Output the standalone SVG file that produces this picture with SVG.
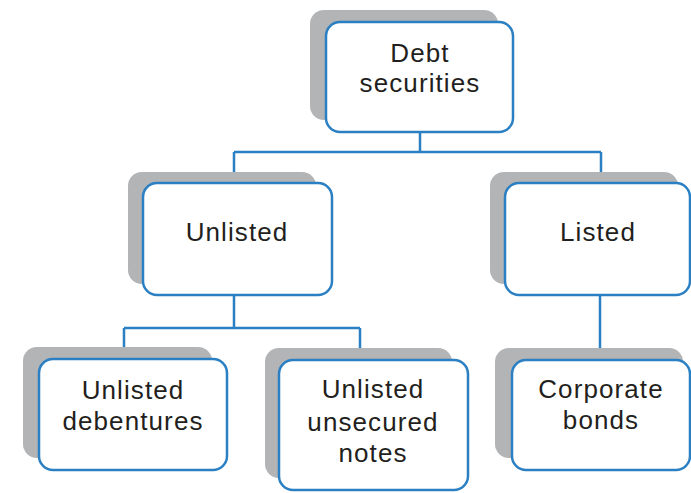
<svg xmlns="http://www.w3.org/2000/svg" width="691" height="493" viewBox="0 0 691 493">
<style>
.sh{fill:#b2b4b6;}
.bx{fill:#ffffff;stroke:#2b7fc3;stroke-width:2.5;}
.ln{fill:none;stroke:#2b7fc3;stroke-width:2.5;}
.t{font-family:"Liberation Sans",Arial,sans-serif;font-size:26px;fill:#231f20;text-anchor:middle;letter-spacing:1.1px;}
</style>
<rect width="691" height="493" fill="#ffffff"/>
<g id="connectors">
<path class="ln" d="M420,132 V152 M234,152 H601 M234,152 V172 M601,152 V172"/>
<path class="ln" d="M234,295 V328 M124,328 H360 M124,328 V347 M360,328 V348"/>
<path class="ln" d="M600,295 V348"/>
</g>
<g id="debt">
<rect class="sh" x="310" y="10" width="188" height="110" rx="14"/>
<rect class="bx" x="326" y="22" width="187" height="110" rx="14"/>
<text class="t" x="420" y="62">Debt</text>
<text class="t" x="420" y="92">securities</text>
</g>
<g id="unlisted">
<rect class="sh" x="128" y="172" width="188" height="112" rx="14"/>
<rect class="bx" x="143" y="183" width="189" height="112" rx="14"/>
<text class="t" x="237" y="241">Unlisted</text>
</g>
<g id="listed">
<rect class="sh" x="490" y="172" width="188" height="112" rx="14"/>
<rect class="bx" x="505" y="183" width="185" height="112" rx="14"/>
<text class="t" x="598" y="241">Listed</text>
</g>
<g id="debentures">
<rect class="sh" x="23" y="347" width="189" height="111" rx="14"/>
<rect class="bx" x="39" y="359" width="188" height="111" rx="14"/>
<text class="t" x="133" y="399">Unlisted</text>
<text class="t" x="133" y="430">debentures</text>
</g>
<g id="notes">
<rect class="sh" x="265" y="348" width="187" height="130" rx="14"/>
<rect class="bx" x="279" y="360" width="189" height="130" rx="14"/>
<text class="t" x="373" y="398">Unlisted</text>
<text class="t" x="373" y="431">unsecured</text>
<text class="t" x="373" y="462">notes</text>
</g>
<g id="bonds">
<rect class="sh" x="495" y="348" width="188" height="110" rx="14"/>
<rect class="bx" x="512" y="360" width="178" height="110" rx="14"/>
<text class="t" x="601" y="398">Corporate</text>
<text class="t" x="601" y="429">bonds</text>
</g>
</svg>
